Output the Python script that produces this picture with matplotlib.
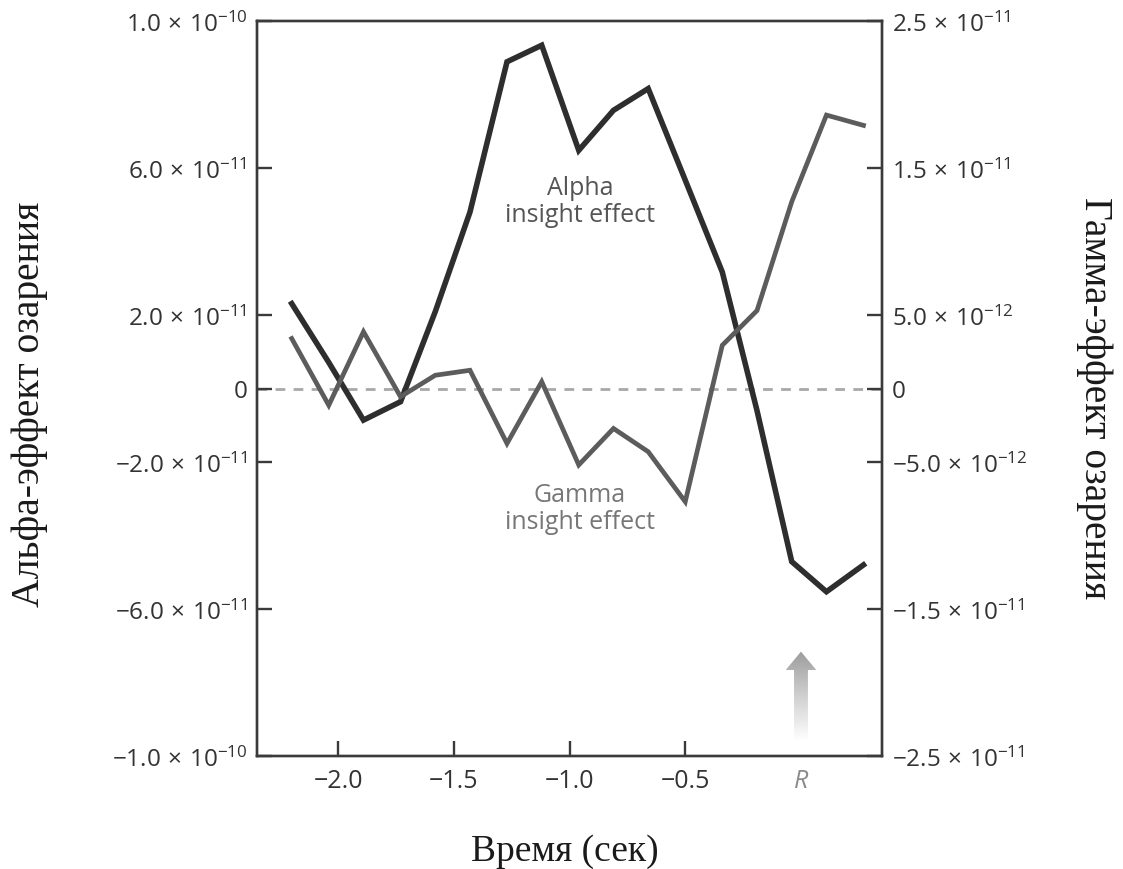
import numpy as np
import matplotlib
matplotlib.use('Agg')
import matplotlib.pyplot as plt
from matplotlib.patches import Polygon
from matplotlib.colors import LinearSegmentedColormap

# ---------------- data ----------------
time_s = [-2.20, -2.04, -1.89, -1.73, -1.58, -1.43, -1.27, -1.12, -0.96,
          -0.81, -0.66, -0.50, -0.34, -0.19, -0.04, 0.11, 0.27]
alpha_effect = [2.31e-11, 0.71e-11, -0.86e-11, -0.36e-11, 2.09e-11, 4.80e-11,
                8.89e-11, 9.34e-11, 6.48e-11, 7.57e-11, 8.16e-11, 5.67e-11,
                3.17e-11, -0.60e-11, -4.71e-11, -5.53e-11, -4.80e-11]
gamma_effect = [3.40e-12, -1.14e-12, 3.86e-12, -0.56e-12, 0.90e-12, 1.24e-12,
                -3.74e-12, 0.46e-12, -5.20e-12, -2.72e-12, -4.30e-12, -7.70e-12,
                2.94e-12, 5.30e-12, 12.7e-12, 18.6e-12, 17.9e-12]

x_ticks = [-2.0, -1.5, -1.0, -0.5]
x_tick_labels = ['\u22122.0', '\u22121.5', '\u22121.0', '\u22120.5']
response_time = [0.0]
response_label = ['R']

left_ticks = [1e-10, 6e-11, 2e-11, 0, -2e-11, -6e-11, -1e-10]
left_tick_labels = [r'$1.0\,\times\,10^{-10}$', r'$6.0\,\times\,10^{-11}$', r'$2.0\,\times\,10^{-11}$', '0',
                    r'$-2.0\,\times\,10^{-11}$', r'$-6.0\,\times\,10^{-11}$', r'$-1.0\,\times\,10^{-10}$']
right_ticks = [2.5e-11, 1.5e-11, 5e-12, 0, -5e-12, -1.5e-11, -2.5e-11]
right_tick_labels = [r'$2.5\,\times\,10^{-11}$', r'$1.5\,\times\,10^{-11}$', r'$5.0\,\times\,10^{-12}$', '0',
                     r'$-5.0\,\times\,10^{-12}$', r'$-1.5\,\times\,10^{-11}$', r'$-2.5\,\times\,10^{-11}$']

# ---------------- style ----------------
plt.rcParams['font.family'] = ['Open Sans', 'DejaVu Sans']
plt.rcParams['mathtext.fontset'] = 'custom'
plt.rcParams['mathtext.rm'] = 'Open Sans'
plt.rcParams['mathtext.it'] = 'Open Sans:italic'
plt.rcParams['mathtext.bf'] = 'Open Sans:bold'

W, H = 1123, 870
fig = plt.figure(figsize=(W / 100, H / 100), dpi=100)
ax = fig.add_axes([257 / W, 1 - 757 / H, (882 - 257) / W, (757 - 22) / H])
ax2 = ax.twinx()

spine_col = '#3a3a3a'
for a in (ax, ax2):
    for s in a.spines.values():
        s.set_color(spine_col)
        s.set_linewidth(1.7)

ax.set_xlim(-2.35, 0.35)
ax.set_ylim(-1e-10, 1e-10)
ax2.set_ylim(-2.5e-11, 2.5e-11)

# zero line
ax.axhline(0, color='#a8a8a8', lw=2.0, ls=(0, (3.5, 3.0)), zorder=1)

# lines
ax.plot(time_s, alpha_effect, color='#2e2e2e', lw=4.0, solid_joinstyle='miter', zorder=4)
ax2.plot(time_s, gamma_effect, color='#5c5c5c', lw=3.4, solid_joinstyle='miter', zorder=3)

# ticks
tick_fs = 17.5
ax.set_xticks(x_ticks, x_tick_labels)
ax.set_xticks(response_time, response_label, minor=True, fontstyle='italic', color='#8a8a8a')
ax.tick_params(axis='x', which='major', direction='in', length=11, width=1.7,
               color=spine_col, labelsize=18, labelcolor='#333333', pad=8.5)
ax.tick_params(axis='x', which='minor', length=0, labelsize=18, pad=8.5)
ax.set_yticks(left_ticks, left_tick_labels)
ax.tick_params(axis='y', direction='in', length=11, width=1.7, color=spine_col,
               labelsize=tick_fs, labelcolor='#333333', pad=7)
ax2.set_yticks(right_ticks, right_tick_labels)
ax2.tick_params(axis='y', direction='in', length=11, width=1.7, color=spine_col,
                labelsize=tick_fs, labelcolor='#333333', pad=7)
for a in (ax, ax2):
    a.tick_params(axis='y', which='minor', left=False, right=False)

# gradient arrow at response time
x0 = response_time[0]
ylo, yhi = ax.get_ylim()
def yd(frac):
    return ylo + frac * (yhi - ylo)
shaft = 0.030
head = 0.066
yb, yh, yt = yd(0.02), yd(0.117), yd(0.142)
verts = [(x0 - shaft, yb), (x0 + shaft, yb), (x0 + shaft, yh), (x0 + head, yh),
         (x0, yt), (x0 - head, yh), (x0 - shaft, yh)]
poly = Polygon(verts, closed=True, facecolor='none', edgecolor='none')
ax.add_patch(poly)
cmap = LinearSegmentedColormap.from_list('g', ['#ffffff', '#d0d0d0', '#9c9c9c'])
grad = np.linspace(0, 1, 256).reshape(-1, 1)
im = ax.imshow(grad, extent=[x0 - head, x0 + head, yb, yt], origin='lower',
               aspect='auto', cmap=cmap, zorder=2, interpolation='bilinear')
im.set_clip_path(poly)
ax.set_xlim(-2.35, 0.35)
ax.set_ylim(-1e-10, 1e-10)

# annotations
ax.text(-0.955, 5.09e-11, 'Alpha\ninsight effect', ha='center', va='center',
        fontsize=18, color='#555555', linespacing=1.1, zorder=5)
ax.text(-0.955, -3.26e-11, 'Gamma\ninsight effect', ha='center', va='center',
        fontsize=18, color='#777777', linespacing=1.1, zorder=5)

# axis labels
serif = ['Liberation Serif', 'DejaVu Serif']
fig.text(30 / W, 1 - 404 / H, 'Альфа-эффект озарения', rotation=90, ha='center',
         va='center', fontsize=28.5, family=serif, color='#1a1a1a')
fig.text(1095 / W, 1 - 398 / H, 'Гамма-эффект озарения', rotation=270, ha='center',
         va='center', fontsize=28.5, family=serif, color='#1a1a1a')
fig.text(565 / W, 1 - 852 / H, 'Время (сек)', ha='center', va='center',
         fontsize=27, family=serif, color='#1a1a1a')

fig.savefig('out.png', dpi=100, facecolor='white')
